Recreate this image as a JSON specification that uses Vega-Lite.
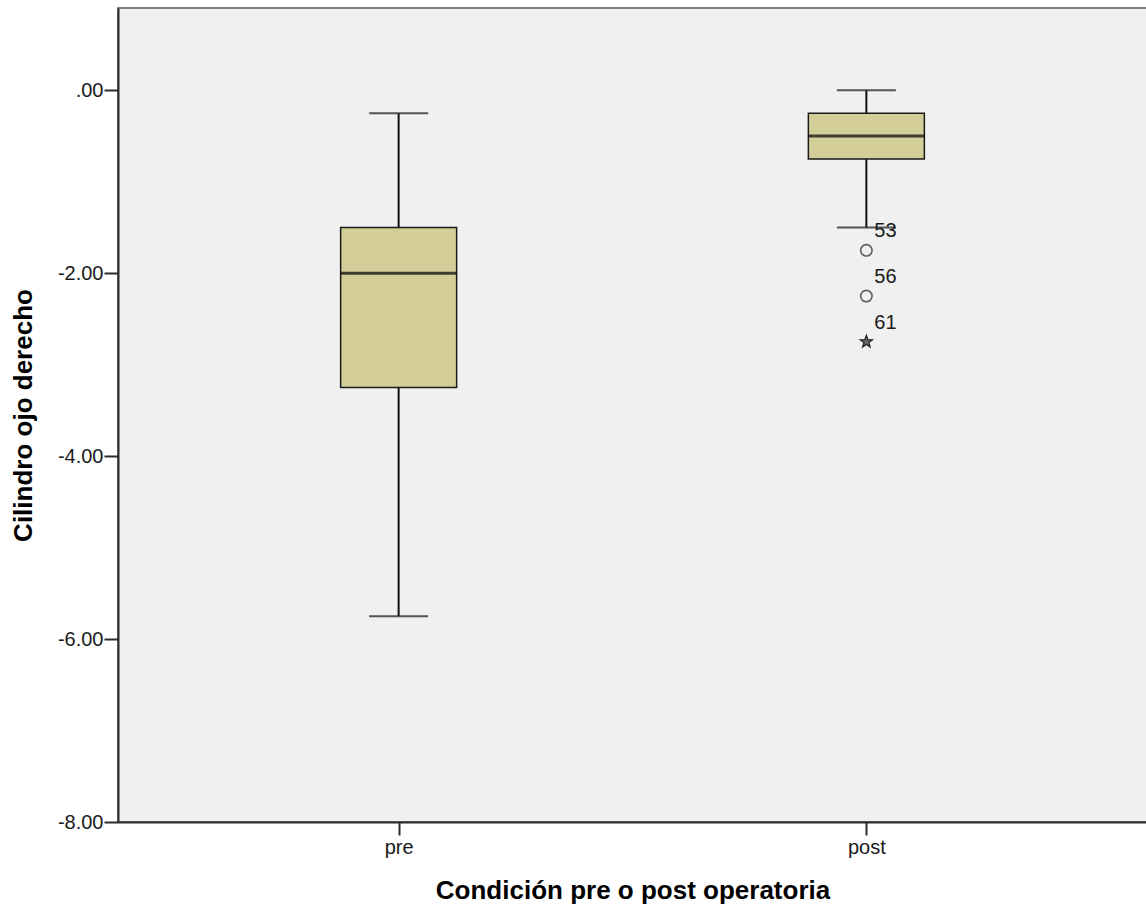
{
  "$schema": "https://vega.github.io/schema/vega-lite/v6.json",
  "width": 1029,
  "height": 814,
  "autosize": {"type": "none"},
  "padding": {"left": 118, "top": 8, "right": 0, "bottom": 90},
  "background": "white",
  "config": {
    "font": "Liberation Sans",
    "view": {"fill": "#f0f0f0", "stroke": "#7f7f7f", "strokeWidth": 2},
    "axisY": {
      "grid": false, "domainColor": "#2b2b2b", "domainWidth": 2, "tickColor": "#2b2b2b", "tickWidth": 2, "tickSize": 14,
      "labelFont": "Liberation Sans", "labelFontSize": 20, "labelColor": "#1a1a1a", "labelPadding": 1,
      "titleFont": "Liberation Sans", "titleFontWeight": "bold", "titleFontSize": 26, "titleColor": "black",
      "titleX": -95, "titleBaseline": "middle"
    },
    "axisX": {
      "grid": false, "domainColor": "#2b2b2b", "domainWidth": 2, "tickColor": "#2b2b2b", "tickWidth": 2, "tickSize": 13,
      "labelFont": "Liberation Sans", "labelFontSize": 20, "labelColor": "#1a1a1a", "labelPadding": 2, "labelAngle": 0,
      "titleFont": "Liberation Sans", "titleFontWeight": "bold", "titleFontSize": 26, "titleColor": "black",
      "titleY": 68, "titleBaseline": "middle"
    }
  },
  "datasets": {
    "boxes": [
      {"grupo": "pre", "lower": -5.75, "q1": -3.25, "median": -2.0, "q3": -1.5, "upper": -0.25},
      {"grupo": "post", "lower": -1.5, "q1": -0.75, "median": -0.5, "q3": -0.25, "upper": 0.0}
    ],
    "atipicos": [
      {"grupo": "post", "valor": -1.75, "caso": "53", "tipo": "atipico"},
      {"grupo": "post", "valor": -2.25, "caso": "56", "tipo": "atipico"},
      {"grupo": "post", "valor": -2.75, "caso": "61", "tipo": "extremo"}
    ]
  },
  "encoding": {
    "x": {
      "field": "grupo", "type": "nominal", "sort": ["pre", "post"],
      "scale": {"type": "point", "padding": 0.6, "domain": ["pre", "post"]},
      "axis": {"title": "Condición pre o post operatoria"}
    }
  },
  "layer": [
    {
      "data": {"name": "boxes"},
      "mark": {"type": "rule", "stroke": "#111111", "strokeWidth": 2},
      "encoding": {
        "y": {"field": "lower", "type": "quantitative", "scale": {"domain": [-8, 0.9], "nice": false, "zero": false},
              "axis": {"values": [-8, -6, -4, -2, 0], "title": "Cilindro ojo derecho", "labelExpr": "datum.value == 0 ? '.00' : replace(format(datum.value, '.2f'), '\u2212', '-')"}},
        "y2": {"field": "upper"}
      }
    },
    {
      "data": {"name": "boxes"},
      "mark": {"type": "tick", "orient": "horizontal", "size": 59, "thickness": 2, "color": "#111111"},
      "encoding": {
        "y": {"field": "lower", "type": "quantitative", "scale": {"domain": [-8, 0.9], "nice": false, "zero": false},
              "axis": {"values": [-8, -6, -4, -2, 0], "title": "Cilindro ojo derecho", "labelExpr": "datum.value == 0 ? '.00' : replace(format(datum.value, '.2f'), '\u2212', '-')"}}
      }
    },
    {
      "data": {"name": "boxes"},
      "mark": {"type": "tick", "orient": "horizontal", "size": 59, "thickness": 2, "color": "#111111"},
      "encoding": {
        "y": {"field": "upper", "type": "quantitative", "scale": {"domain": [-8, 0.9], "nice": false, "zero": false},
              "axis": {"values": [-8, -6, -4, -2, 0], "title": "Cilindro ojo derecho", "labelExpr": "datum.value == 0 ? '.00' : replace(format(datum.value, '.2f'), '\u2212', '-')"}}
      }
    },
    {
      "data": {"name": "boxes"},
      "mark": {"type": "bar", "size": 116, "fill": "#d3ce97", "stroke": "#1a1a1a", "strokeWidth": 1.5},
      "encoding": {
        "y": {"field": "q1", "type": "quantitative", "scale": {"domain": [-8, 0.9], "nice": false, "zero": false},
              "axis": {"values": [-8, -6, -4, -2, 0], "title": "Cilindro ojo derecho", "labelExpr": "datum.value == 0 ? '.00' : replace(format(datum.value, '.2f'), '\u2212', '-')"}},
        "y2": {"field": "q3"}
      }
    },
    {
      "data": {"name": "boxes"},
      "mark": {"type": "tick", "orient": "horizontal", "size": 116, "thickness": 3, "color": "#000000"},
      "encoding": {
        "y": {"field": "median", "type": "quantitative", "scale": {"domain": [-8, 0.9], "nice": false, "zero": false},
              "axis": {"values": [-8, -6, -4, -2, 0], "title": "Cilindro ojo derecho", "labelExpr": "datum.value == 0 ? '.00' : replace(format(datum.value, '.2f'), '\u2212', '-')"}}
      }
    },
    {
      "data": {"name": "atipicos"},
      "transform": [{"filter": "datum.tipo == 'atipico'"}],
      "mark": {"type": "point", "shape": "circle", "filled": false, "size": 130, "stroke": "#222222", "strokeWidth": 1.6},
      "encoding": {
        "y": {"field": "valor", "type": "quantitative", "scale": {"domain": [-8, 0.9], "nice": false, "zero": false},
              "axis": {"values": [-8, -6, -4, -2, 0], "title": "Cilindro ojo derecho", "labelExpr": "datum.value == 0 ? '.00' : replace(format(datum.value, '.2f'), '\u2212', '-')"}}
      }
    },
    {
      "data": {"name": "atipicos"},
      "transform": [{"filter": "datum.tipo == 'extremo'"}],
      "mark": {"type": "point", "shape": "M0,-1L0.235,-0.324L0.951,-0.309L0.380,0.124L0.588,0.809L0,0.4L-0.588,0.809L-0.380,0.124L-0.951,-0.309L-0.235,-0.324Z", "filled": true, "size": 170, "fill": "#666666", "stroke": "#222222", "strokeWidth": 1.2, "opacity": 1},
      "encoding": {
        "y": {"field": "valor", "type": "quantitative", "scale": {"domain": [-8, 0.9], "nice": false, "zero": false},
              "axis": {"values": [-8, -6, -4, -2, 0], "title": "Cilindro ojo derecho", "labelExpr": "datum.value == 0 ? '.00' : replace(format(datum.value, '.2f'), '\u2212', '-')"}}
      }
    },
    {
      "data": {"name": "atipicos"},
      "mark": {"type": "text", "align": "left", "baseline": "middle", "dx": 8, "dy": -19, "font": "Liberation Sans", "fontSize": 20, "color": "#1a1a1a"},
      "encoding": {
        "y": {"field": "valor", "type": "quantitative", "scale": {"domain": [-8, 0.9], "nice": false, "zero": false},
              "axis": {"values": [-8, -6, -4, -2, 0], "title": "Cilindro ojo derecho", "labelExpr": "datum.value == 0 ? '.00' : replace(format(datum.value, '.2f'), '\u2212', '-')"}},
        "text": {"field": "caso"}
      }
    }
  ]
}
